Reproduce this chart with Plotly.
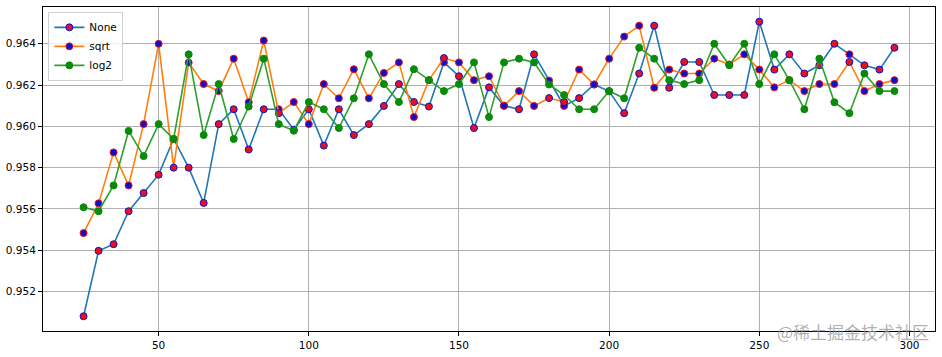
import plotly.graph_objects as go

x_vals = list(range(25, 300, 5))

none_vals = [0.95080, 0.95397, 0.95429, 0.95589, 0.95677, 0.95766, 0.95939, 0.95800, 0.95629, 0.96011,
             0.96083, 0.95888, 0.96083, 0.96083, 0.95984, 0.96083, 0.95907, 0.96083, 0.95958, 0.96011,
             0.96099, 0.96205, 0.96118, 0.96096, 0.96310, 0.96243, 0.95992, 0.96189, 0.96100, 0.96083,
             0.96349, 0.96222, 0.96099, 0.96137, 0.96203, 0.96170, 0.96064, 0.96256, 0.96488, 0.96187,
             0.96312, 0.96312, 0.96152, 0.96152, 0.96152, 0.96507, 0.96275, 0.96349, 0.96256, 0.96296,
             0.96400, 0.96349, 0.96296, 0.96275, 0.96381]

sqrt_vals = [0.95483, 0.95627, 0.95874, 0.95714, 0.96011, 0.96400, 0.95800, 0.96309, 0.96205, 0.96171,
             0.96328, 0.96117, 0.96416, 0.96064, 0.96118, 0.96011, 0.96205, 0.96136, 0.96277, 0.96136,
             0.96259, 0.96310, 0.96045, 0.96224, 0.96331, 0.96310, 0.96224, 0.96243, 0.96100, 0.96171,
             0.96099, 0.96137, 0.96118, 0.96275, 0.96203, 0.96328, 0.96435, 0.96488, 0.96187, 0.96275,
             0.96256, 0.96256, 0.96328, 0.96300, 0.96349, 0.96275, 0.96189, 0.96224, 0.96171, 0.96205,
             0.96205, 0.96312, 0.96171, 0.96205, 0.96224]

log2_vals = [0.95608, 0.95589, 0.95714, 0.95978, 0.95856, 0.96011, 0.95939, 0.96349, 0.95958, 0.96205,
             0.95939, 0.96096, 0.96328, 0.96011, 0.95979, 0.96118, 0.96083, 0.95992, 0.96136, 0.96349,
             0.96205, 0.96118, 0.96277, 0.96224, 0.96171, 0.96205, 0.96310, 0.96045, 0.96310, 0.96328,
             0.96310, 0.96203, 0.96152, 0.96083, 0.96083, 0.96171, 0.96136, 0.96381, 0.96328, 0.96224,
             0.96205, 0.96224, 0.96400, 0.96296, 0.96400, 0.96205, 0.96349, 0.96224, 0.96083, 0.96328,
             0.96117, 0.96064, 0.96256, 0.96171, 0.96171]

# x positions where the None / sqrt marker faces appear swapped in the picture
swapped_x = [55, 90, 145, 180, 185, 280]

y_ticks = [0.952, 0.954, 0.956, 0.958, 0.960, 0.962, 0.964]
y_tick_text = ["0.952", "0.954", "0.956", "0.958", "0.960", "0.962", "0.964"]
x_ticks = [50, 100, 150, 200, 250, 300]

RED = "#e8101a"
BLUE = "#1010c8"

none_face = [BLUE if x in swapped_x else RED for x in x_vals]
none_edge = [RED if x in swapped_x else BLUE for x in x_vals]
sqrt_face = [RED if x in swapped_x else BLUE for x in x_vals]
sqrt_edge = [BLUE if x in swapped_x else RED for x in x_vals]

fig = go.Figure()
fig.add_trace(go.Scatter(
    x=x_vals, y=none_vals, mode="lines+markers", name="None",
    line=dict(color="#1f77b4", width=1.6),
    marker=dict(size=7, color=none_face, line=dict(color=none_edge, width=1)),
))
fig.add_trace(go.Scatter(
    x=x_vals, y=sqrt_vals, mode="lines+markers", name="sqrt",
    line=dict(color="#ff7f0e", width=1.6),
    marker=dict(size=7, color=sqrt_face, line=dict(color=sqrt_edge, width=1)),
))
fig.add_trace(go.Scatter(
    x=x_vals, y=log2_vals, mode="lines+markers", name="log2",
    line=dict(color="#2ca02c", width=1.6),
    marker=dict(size=7, color="#0a8a0a", line=dict(color="#0a8a0a", width=1)),
))

xmin, xmax = min(x_vals), max(x_vals)
pad_x = (xmax - xmin) * 0.05
allv = none_vals + sqrt_vals + log2_vals
ymin, ymax = min(allv), max(allv)
pad_y = (ymax - ymin) * 0.05

axis_common = dict(
    showgrid=True, gridcolor="#b0b0b0", gridwidth=1,
    showline=True, linecolor="black", linewidth=1, mirror=True,
    ticks="outside", ticklen=4, tickcolor="black", tickwidth=1,
    zeroline=False,
    tickfont=dict(family="DejaVu Sans", size=10.5, color="black"),
)

fig.update_layout(
    width=942, height=357,
    margin=dict(l=43, r=6, t=7, b=24),
    paper_bgcolor="white", plot_bgcolor="white",
    showlegend=True,
    legend=dict(
        x=0.006, y=0.985, xanchor="left", yanchor="top",
        bgcolor="rgba(255,255,255,0.8)", bordercolor="#d0d0d0", borderwidth=1,
        font=dict(family="DejaVu Sans", size=10.5, color="black"),
        itemwidth=30, tracegroupgap=0,
    ),
    xaxis=dict(range=[xmin - pad_x, xmax + pad_x], tickvals=x_ticks, **axis_common),
    yaxis=dict(range=[ymin - pad_y, ymax + pad_y], tickvals=y_ticks, ticktext=y_tick_text, **axis_common),
    annotations=[dict(
        text="@稀土掘金技术社区", xref="paper", yref="paper",
        x=0.995, y=0.0, xanchor="right", yanchor="middle",
        showarrow=False,
        font=dict(family="Noto Sans CJK SC", size=17, color="rgba(150,150,150,0.75)"),
    )],
)

fig.write_html("out.html")
